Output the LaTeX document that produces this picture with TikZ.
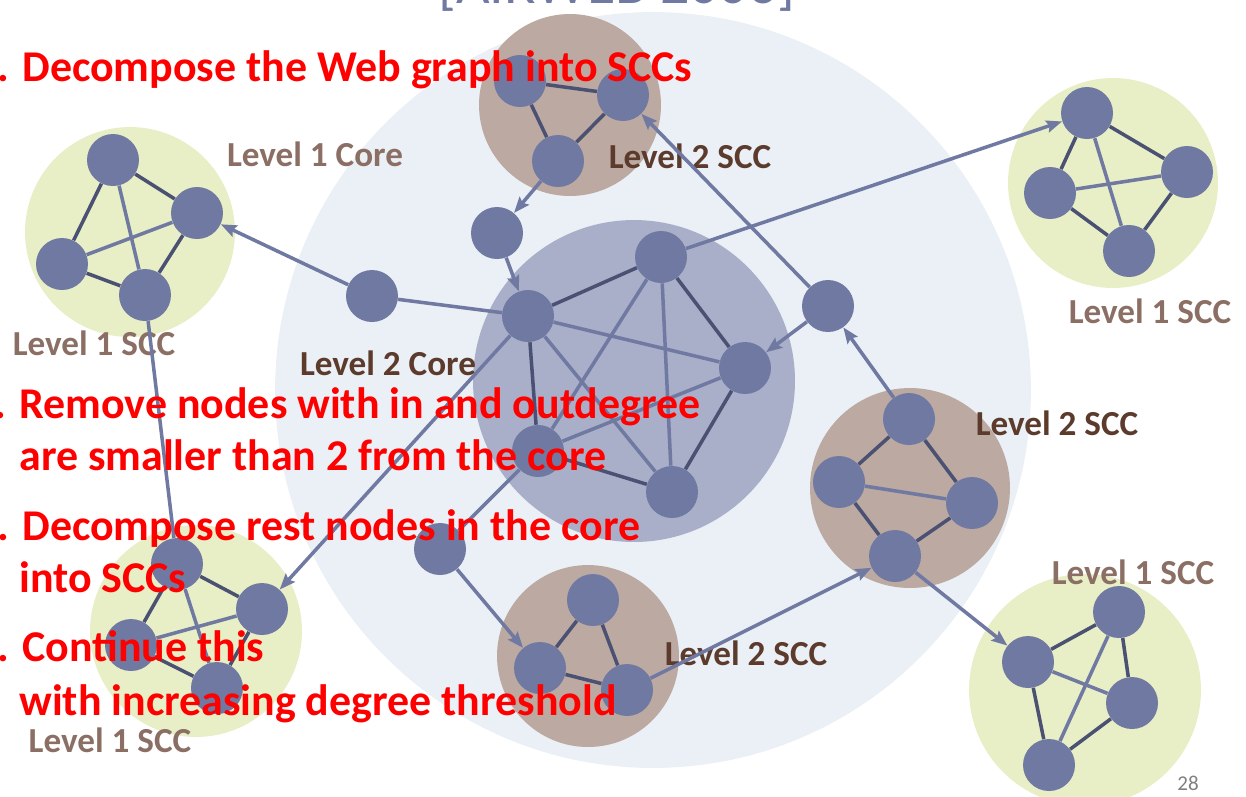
\documentclass[tikz,border=0pt]{standalone}
\usepackage{fontspec}
\setmainfont{Carlito}
\usepackage{tikz}
\usetikzlibrary{arrows.meta}
\definecolor{Bgcolor}{HTML}{EAF0F5}
\definecolor{Corecolor}{HTML}{A9AFC8}
\definecolor{Lonecolor}{HTML}{E8EEC6}
\definecolor{Ltwocolor}{HTML}{BBA9A2}
\definecolor{Vcolor}{HTML}{6F79A1}
\definecolor{Ecolor}{HTML}{4B5173}
\definecolor{Lbonecolor}{HTML}{8B6F65}
\definecolor{Lbtwocolor}{HTML}{5C3B2D}

\begin{document}
\begin{tikzpicture}[x=0.02cm, y=-0.02cm,
  grp/.style={circle, inner sep=0pt},
  lvone/.style={grp, fill=Lonecolor},
  lvtwo/.style={grp, fill=Ltwocolor},
  vtx/.style={circle, fill=Vcolor, inner sep=0pt, minimum size=1.04cm},
  dk/.style={draw=Ecolor, line width=2pt},
  lt/.style={draw=Vcolor, line width=2pt},
  arr/.style={-{Stealth[length=9pt, width=7pt, inset=1.5pt]}, draw=Vcolor, line width=2pt},
  lbone/.style={font=\fontsize{20}{24}\selectfont\bfseries, text=Lbonecolor},
  lbtwo/.style={font=\fontsize{20}{24}\selectfont\bfseries, text=Lbtwocolor},
  redtxt/.style={anchor=base west, inner sep=0pt, text=red,
                 font=\fontsize{25}{30}\selectfont\bfseries}
]
\useasboundingbox (0,0) rectangle (1246,796);
\clip (0,0) rectangle (1246,796);

%% --- GROUPS ---
\node[grp, fill=Bgcolor, minimum size=15.12cm] (web) at (653,390) {};
\node[grp, fill=Corecolor, minimum size=6.44cm] (core) at (634,381) {};

\node[lvone, minimum size=4.2cm] (sccA) at (130,232) {};
\node[lvone, minimum size=4.2cm] (sccB) at (1113,183) {};
\node[lvone, minimum size=4.24cm] (sccC) at (196,631) {};
\node[lvone, minimum size=4.64cm] (sccD) at (1085,690) {};

\node[lvtwo, minimum size=3.64cm] (sccE) at (570,105) {};
\node[lvtwo, minimum size=4.0cm] (sccF) at (910,488) {};
\node[lvtwo, minimum size=3.64cm] (sccG) at (588,656) {};

%% --- LABELS ---
\node[lbone] (lblcore1) at (315,154) {Level 1 Core};
\node[lbtwo] (lblE) at (690,156) {Level 2 SCC};
\node[lbone] (lblB) at (1150,311) {Level 1 SCC};
\node[lbone] (lblA) at (94,343) {Level 1 SCC};
\node[lbtwo] (lblcore2) at (388,363) {Level 2 Core};
\node[lbtwo] (lblF) at (1057,423) {Level 2 SCC};
\node[lbone] (lblD) at (1133,572) {Level 1 SCC};
\node[lbtwo] (lblG) at (746,653) {Level 2 SCC};
\node[lbone] (lblC) at (110,740) {Level 1 SCC};

%% --- VERTICES ---
\node[vtx] (a1) at (113,160) {};
\node[vtx] (a2) at (197,213) {};
\node[vtx] (a3) at (62,264) {};
\node[vtx] (a4) at (145,295) {};

\node[vtx] (b1) at (1087,113) {};
\node[vtx] (b2) at (1187,172) {};
\node[vtx] (b3) at (1050,193) {};
\node[vtx] (b4) at (1129,251) {};

\node[vtx] (c1) at (177,564) {};
\node[vtx] (c2) at (262,609) {};
\node[vtx] (c3) at (131,645) {};
\node[vtx] (c4) at (217,688) {};

\node[vtx] (d1) at (1119,612) {};
\node[vtx] (d2) at (1028,662) {};
\node[vtx] (d3) at (1132,703) {};
\node[vtx] (d4) at (1049,765) {};

\node[vtx] (e1) at (520,81) {};
\node[vtx] (e2) at (623,95) {};
\node[vtx] (e3) at (558,161) {};

\node[vtx] (f1) at (909,419) {};
\node[vtx] (f2) at (839,482) {};
\node[vtx] (f3) at (972,503) {};
\node[vtx] (f4) at (895,556) {};

\node[vtx] (g1) at (593,600) {};
\node[vtx] (g2) at (540,668) {};
\node[vtx] (g3) at (627,690) {};

\node[vtx] (h1) at (528,316) {};
\node[vtx] (h2) at (661,257) {};
\node[vtx] (h3) at (745,368) {};
\node[vtx] (h4) at (538,451) {};
\node[vtx] (h5) at (672,492) {};

\node[vtx] (p1) at (372,296) {};
\node[vtx] (p2) at (497,233) {};
\node[vtx] (p3) at (828,306) {};
\node[vtx] (p4) at (440,549) {};

%% --- EDGES INSIDE GROUPS ---
\foreach \g in {a,b,c,d}{
  \draw[dk] (\g1) -- (\g2);
  \draw[dk] (\g1) -- (\g3);
  \draw[dk] (\g2) -- (\g4);
  \draw[dk] (\g3) -- (\g4);
  \draw[lt] (\g1) -- (\g4);
  \draw[lt] (\g3) -- (\g2);
}
\draw[dk] (e1) -- (e2);
\draw[dk] (e1) -- (e3);
\draw[dk] (e2) -- (e3);
\draw[dk] (f1) -- (f2);
\draw[dk] (f1) -- (f3);
\draw[dk] (f2) -- (f4);
\draw[dk] (f3) -- (f4);
\draw[lt] (f2) -- (f3);
\draw[dk] (g1) -- (g2);
\draw[dk] (g1) -- (g3);
\draw[dk] (g2) -- (g3);

\draw[dk] (h1) -- (h2);
\draw[dk] (h1) -- (h4);
\draw[dk] (h2) -- (h3);
\draw[dk] (h3) -- (h5);
\draw[dk] (h4) -- (h5);
\draw[lt] (h1) -- (h3);
\draw[lt] (h1) -- (h5);
\draw[lt] (h2) -- (h4);
\draw[lt] (h2) -- (h5);
\draw[lt] (h3) -- (h4);

%% --- LINKS BETWEEN GROUPS ---
\draw[lt] (h1) -- (p1);
\draw[arr] (p1) -- (a2);
\draw[arr] (e3) -- (p2);
\draw[arr] (p2) -- (h1);
\draw[arr] (h2) -- (b1);
\draw[arr] (h1) -- (c2);
\draw[lt] (a4) -- (c1);
\draw[lt] (h4) -- (p4);
\draw[arr] (p4) -- (g2);
\draw[arr] (g3) -- (f4);
\draw[arr] (f4) -- (d2);
\draw[arr] (f1) -- (p3);
\draw[arr] (p3) -- (e2);
\draw[arr] (p3) -- (h3);

%% --- STEPS (red) ---
\node[redtxt] (step1) at (22,81) {\llap{1. }Decompose the Web graph into SCCs};
\node[redtxt] (step2) at (19,418) {\llap{2. }Remove nodes with in and outdegree};
\node[redtxt] (step2b) at (19,470) {are smaller than 2 from the core};
\node[redtxt] (step3) at (22,540) {\llap{3. }Decompose rest nodes in the core};
\node[redtxt] (step3b) at (19,592) {into SCCs};
\node[redtxt] (step4) at (22,661) {\llap{4. }Continue this};
\node[redtxt] (step4b) at (19,715) {with increasing degree threshold};

%% --- TITLE (cut) AND PAGE ---
\node[anchor=base, inner sep=0pt, text=Vcolor,
      font=\fontsize{33}{36}\selectfont] (title) at (617,3) {[AIRWEB 2006]};
\node[text=gray, font=\fontsize{12}{14}\selectfont] (page) at (1188,783) {28};

\end{tikzpicture}
\end{document}
